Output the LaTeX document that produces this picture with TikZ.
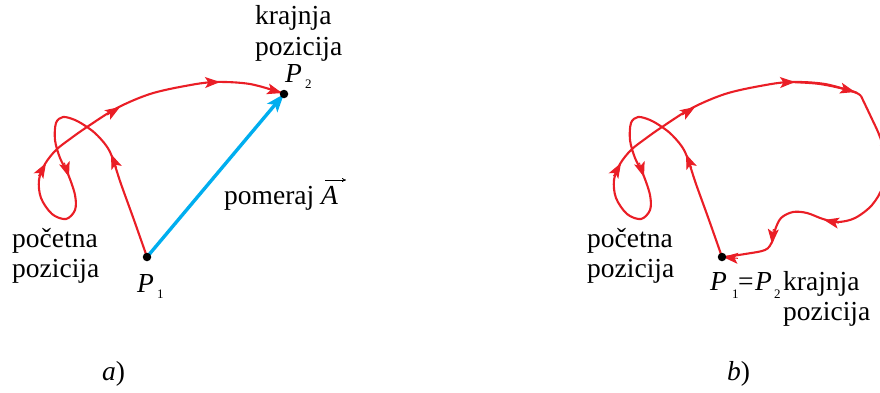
\documentclass[tikz,border=0pt]{standalone}
\usepackage{fontspec}
\setmainfont{Liberation Serif}
\usetikzlibrary{arrows.meta,calc}
\definecolor{cred}{RGB}{234,30,38}
\definecolor{cblue}{RGB}{0,174,239}
\tikzset{
 redline/.style={draw=cred, line width=2.1pt, line join=round},
 redtip/.style={draw=cred, fill=cred, line width=1pt, -{Stealth[length=15pt,width=11pt,inset=3.5pt]}},
 lbl/.style={inner sep=0pt, anchor=base west, font=\fontsize{27.5}{31}\selectfont},
 sublbl/.style={inner sep=0pt, anchor=base west, font=\fontsize{13}{13}\selectfont},
 dotnode/.style={circle, fill=black, inner sep=0pt, minimum size=8.5pt},
}
\newcommand\arrowat[3]{\draw[redtip] ($(#1,#2)+(#3+180:15pt)$) -- (#1,#2);}
\begin{document}
\begin{tikzpicture}[x=1pt,y=-1pt]
\useasboundingbox (0,0) rectangle (880,392);
\clip (0,0) rectangle (880,392);
% common first part of the path, panels a and b
\foreach \dx in {0,575}{
\begin{scope}[xshift=\dx pt]
\draw[redline] plot[smooth, tension=0.55] coordinates {
 (147,257) (134,220) (121,184) (110,152) (98,136) (87,127) (75,120) (63,117)
 (56,123) (55,140) (60,158) (68,174) (75,195) (75,210) (66,219) (52,214)
 (41,198) (39,180) (45,164) (56,150) (70,139) (87,127) (117,108) (150,94)
 (185,86) (215,82) (250,84) (282,93)};
\arrowat{111}{154}{112}
\arrowat{69}{177}{-72}
\arrowat{46}{163}{60}
\arrowat{120}{107}{32}
\arrowat{220}{82}{2}
\end{scope}}
% panel a
\coordinate (P1a) at (147,257);
\coordinate (P2a) at (284,94);
\arrowat{282}{93}{-16}
\draw[cblue, line width=3.4pt, -{Stealth[length=18pt,width=13pt,inset=4pt]}] (P1a) -- (P2a);
\node[dotnode] (d1a) at (P1a) {};
\node[dotnode] (d2a) at (P2a) {};
\node[lbl] (kra) at (255,24) {krajnja};
\node[lbl] (poza) at (255,55) {pozicija};
\node[lbl] (pa2) at (285,82) {\textit{P}};
\node[sublbl] (sa2) at (305,88) {2};
\node[lbl] (pom) at (224,204) {pomeraj \textit{A}};
\coordinate (vA1) at (325,180);
\coordinate (vA2) at (346,180);
\draw[line width=0.8pt, -{To[length=4pt,width=4pt]}] (vA1) -- (vA2);
\node[lbl] (poca) at (12,247) {početna};
\node[lbl] (poza2) at (12,277) {pozicija};
\node[lbl] (pa1) at (137,292) {\textit{P}};
\node[sublbl] (sa1) at (157,298) {1};
\node[lbl] (la) at (102,380) {\textit{a})};
% panel b
\coordinate (P1b) at (722,257);
\draw[redline] plot[smooth, tension=0.55] coordinates {
 (790,82) (820,84) (852,91) (861,96)};
\draw[redline] plot[smooth, tension=0.55] coordinates {
 (861,96) (871,117) (880,137) (887,162) (883,186) (872,205) (855,218) (838,222)
 (823,219) (807,213) (793,212) (781,218) (775,230) (772,242) (765,250) (745,254)
 (724,257)};
\arrowat{855}{92}{-15}
\arrowat{886}{160}{-88}
\arrowat{824}{220}{168}
\arrowat{772}{244}{-95}
\arrowat{723}{257}{175}
\node[dotnode] (d1b) at (P1b) {};
\node[lbl] (pocb) at (587,247) {početna};
\node[lbl] (pozb) at (587,277) {pozicija};
\node[lbl] (pb1) at (710,290) {\textit{P}};
\node[sublbl] (sb1) at (732,298) {1};
\node[lbl] (eqb) at (738,290) {=};
\node[lbl] (pb2) at (755,290) {\textit{P}};
\node[sublbl] (sb2) at (774,298) {2};
\node[lbl] (krb) at (783,290) {krajnja};
\node[lbl] (pozb2) at (783,320) {pozicija};
\node[lbl] (lb) at (727,380) {\textit{b})};
\end{tikzpicture}
\end{document}
